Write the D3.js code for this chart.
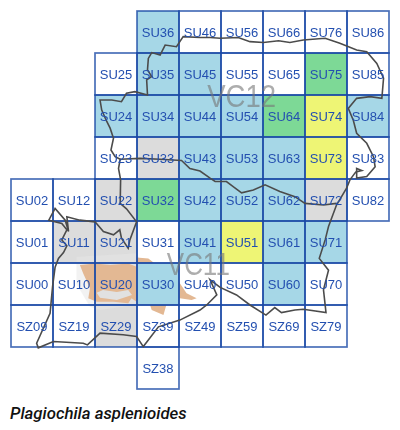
<!DOCTYPE html>
<html>
<head>
<meta charset="utf-8">
<script src="https://cdn.jsdelivr.net/npm/d3@7"></script>
<style>
body { margin: 0; background: white; }
</style>
</head>
<body>
<script>
const title = "Plagiochila asplenioides"

// hectads by recording class
const white = ["SU46", "SU56", "SU66", "SU76", "SU86", "SU25", "SU55", "SU65", "SU85", "SU23", "SU83", "SU82", "SU02", "SU12", "SU31", "SU01", "SU00", "SU10", "SU40", "SU50", "SU70", "SZ09", "SZ19", "SZ39", "SZ49", "SZ59", "SZ69", "SZ79", "SZ38"]
const grey = ["SU33", "SU22", "SU72", "SU11", "SU21", "SU20", "SZ29"]
const blue = ["SU36", "SU35", "SU45", "SU24", "SU34", "SU44", "SU54", "SU84", "SU43", "SU53", "SU63", "SU42", "SU52", "SU62", "SU41", "SU61", "SU71", "SU30", "SU60"]
const green = ["SU75", "SU64", "SU32"]
const yellow = ["SU74", "SU73", "SU51"]

// vice county labels, km from SU00 corner
const vcNames = ["VC12", "VC11"]
const vcEast = [46.7, 37.1]
const vcNorth = [47.1, 7.1]
const vcWidthKm = [16.4, 15]

// traced boundaries, [east km, north km]
const county = [[45,63.7],[47.4,63.7],[49.8,63.5],[54.1,63.7],[56.9,62.7],[60.1,62.5],[63.7,62.9],[66.4,62.5],[69.6,63.1],[74.8,63.5],[78.3,62.3],[82.3,60.7],[84.7,60.3],[87.1,57.5],[88.7,54],[88.3,49.2],[85.5,49.6],[82.3,49.2],[80.3,46.8],[81.5,44],[82.3,40.9],[84.7,38.5],[86.3,35.3],[86.7,32.9],[84.7,30.6],[82.3,30.2],[82.3,32.5],[83.5,32],[82.1,31.7],[80.7,29.8],[79.9,27.8],[77.5,23.8],[75.6,18.7],[74.8,15.5],[73.4,11.1],[75.6,8.3],[74.4,3.6],[75,-1.8],[69.6,-1],[67.6,-1.2],[64.4,-1.8],[62.8,-0.6],[60.7,-2.4],[56.9,0],[53.7,2.4],[49.8,4.2],[47.4,6],[49,2.4],[46.6,0],[45,-1.2],[44.2,-1.6],[40.2,-3.6],[35.1,-5.2],[31.5,-9.9],[29.9,-7.5],[26.7,-7.1],[21.2,-6.7],[18.2,-9.5],[17.2,-9.1],[10.1,-8.7],[6.5,-10.2],[6.1,-9.1],[9.3,-2],[9.9,4.4],[10.5,9],[11.3,11.1],[12.5,12.5],[13.3,14.1],[12.1,15.5],[13.3,17.9],[12.1,19.4],[9,20.2],[10.5,23],[12.9,20.2],[13.7,17.5],[13.3,21],[16.4,20.2],[20,19.8],[22,17.5],[24.4,16.7],[25.9,17.9],[26.3,15.9],[27.9,13.5],[28.3,15.5],[29.9,19.8],[27.5,22.9],[26,24.2],[26.1,29.8],[25.6,32.5],[26,34.7],[24.8,35.3],[23.8,36.9],[24.4,39.7],[23.6,42.1],[22.8,43.7],[21.6,46.4],[21.2,48.8],[24,48.8],[26.3,48.4],[27.5,50.4],[29.5,50.8],[32.5,50],[32.3,53.6],[33.5,54.4],[32.5,56],[32.7,58.7],[33.5,60.1],[35.5,59.5],[36.7,61.9],[39.4,61.5],[41,63.9],[45,63.7]]
const divide = [[26,34.7],[30.7,34.9],[35.5,34.7],[40.6,34.4],[42.6,32.5],[45,31.9],[47.4,30.2],[48.6,29.4],[51.3,29.4],[52.9,28.2],[54.9,26.7],[57.7,27.4],[60.5,28.6],[64,27],[67.6,25.8],[70,24.2],[74.4,23.8],[77.5,24.2]]
const heath = [[16.4,9.5],[20,9.9],[23.6,9.5],[27.9,9.9],[29.9,9.1],[29.9,11.3],[32.7,11.1],[34.7,9.5],[36.3,8.3],[39.4,7.5],[40.2,5.2],[41.8,2.8],[44.2,1.6],[43,1.2],[40.2,1.6],[39.8,0.4],[37.1,0.4],[36.3,-2.4],[33.5,-1.2],[33.1,0],[29.9,0.8],[28.7,1.6],[27.9,0.4],[24.4,0.8],[20.4,0.8],[18.4,1.6],[18.8,4],[17.2,7.5]]
const heathHole = [[20.4,2.9],[21.9,3.6],[25.2,3.1],[27.9,3.6],[28.8,2.4],[25.2,1.2],[21.2,1.7]]
const shade = [[15.6,11.5],[29.9,12.3],[30.7,10.7],[30,0],[21.2,-1.2],[18.8,-0.4],[15.6,5]]

const colors = {white: "#ffffff", grey: "#dcdcdc", blue: "#a6d7e7", green: "#7dd996", yellow: "#eef575"}
const gridColor = "#1c4aa6"

const cells = []
for (const [cls, names] of [["white", white], ["grey", grey], ["blue", blue], ["green", green], ["yellow", yellow]]) {
    names.forEach(name => {
        // SZ squares sit below the SU00 line
        const n = name[1] == "U" ? +name[3] : +name[3] - 10
        cells.push({name: name, cls: cls, e: +name[2], n: n})
    })
}

const x = d3.scaleLinear().domain([0, 10]).range([11, 431])
const y = d3.scaleLinear().domain([7, -2]).range([11, 389])
const kmLine = d3.line().x(d => x(d[0] / 10)).y(d => y(d[1] / 10))

const svg = d3.select("body").append("svg")
    .attr("width", 400)
    .attr("height", 430)
    .style("display", "block")

// the reference is a resampled picture, so everything is a touch soft
svg.append("filter")
    .attr("id", "soft")
    .append("feGaussianBlur")
    .attr("stdDeviation", 0.3)

const map = svg.append("g").attr("filter", "url(#soft)")

const square = sel => sel
    .attr("x", d => x(d.e))
    .attr("y", d => y(d.n + 1))
    .attr("width", d => x(d.e + 1) - x(d.e))
    .attr("height", d => y(d.n) - y(d.n + 1))

// grey squares lie under the heath patch, coloured squares on top of it
map.selectAll(".under")
    .data(cells.filter(d => d.cls == "white" || d.cls == "grey"))
    .enter().append("rect")
    .call(square)
    .attr("fill", d => colors[d.cls])

map.append("path")
    .attr("d", kmLine(shade) + "Z")
    .attr("fill", "#e6e6e6")
    .attr("opacity", 0.5)

map.append("path")
    .attr("d", kmLine(heath) + "Z" + kmLine(heathHole) + "Z")
    .attr("fill", "#e3b893")
    .attr("fill-rule", "evenodd")

map.selectAll(".over")
    .data(cells.filter(d => d.cls != "white" && d.cls != "grey"))
    .enter().append("rect")
    .call(square)
    .attr("fill", d => colors[d.cls])

map.selectAll(".frame")
    .data(cells)
    .enter().append("rect")
    .call(square)
    .attr("fill", "none")
    .attr("stroke", gridColor)
    .attr("stroke-width", 1.7)
    .attr("stroke-opacity", 0.8)

map.selectAll(".vc")
    .data(vcNames)
    .enter().append("text")
    .attr("x", (d, i) => x(vcEast[i] / 10))
    .attr("y", (d, i) => y(vcNorth[i] / 10))
    .attr("textLength", (d, i) => x(vcWidthKm[i] / 10) - x(0))
    .attr("lengthAdjust", "spacingAndGlyphs")
    .attr("font-family", "Liberation Sans")
    .attr("font-size", 32)
    .attr("fill", "#777777")
    .attr("opacity", 0.6)
    .text(d => d)

for (const part of [county, divide]) {
    map.append("path")
        .attr("d", kmLine(part))
        .attr("fill", "none")
        .attr("stroke", "#4c4c4c")
        .attr("stroke-width", 1.6)
}

map.selectAll(".label")
    .data(cells)
    .enter().append("text")
    .attr("x", d => x(d.e + 0.5))
    .attr("y", d => y(d.n + 0.5) + 4.5)
    .attr("text-anchor", "middle")
    .attr("font-family", "Liberation Sans")
    .attr("font-size", 13)
    .attr("fill", "#2450b0")
    .text(d => d.name)

svg.append("text")
    .attr("x", 10)
    .attr("y", 419)
    .attr("font-family", "Roboto")
    .attr("font-size", 16.8)
    .attr("font-style", "italic")
    .attr("font-weight", 500)
    .attr("fill", "#111111")
    .text(title)
</script>
</body>
</html>
